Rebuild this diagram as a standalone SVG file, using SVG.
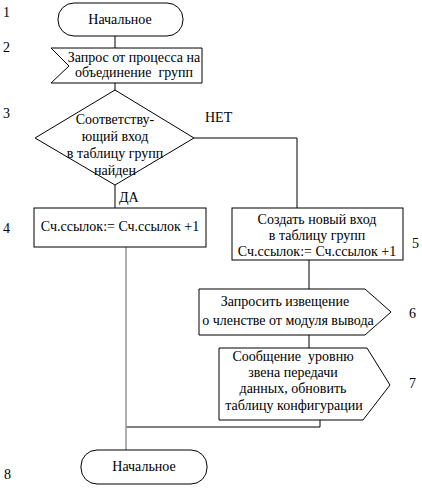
<svg xmlns="http://www.w3.org/2000/svg" width="422" height="489" viewBox="0 0 422 489" font-family="Liberation Serif, DejaVu Serif, serif" font-size="14">
<style>
.s{fill:#fff;stroke:#000;stroke-width:1}
.c{text-anchor:middle}
.ln{fill:none;stroke:#000;stroke-width:1}
.g{fill:none;stroke:#9a9a9a;stroke-width:1.6}
</style>
<rect width="422" height="489" fill="#fff"/>
<g id="connectors">
<line class="ln" x1="115" y1="36" x2="115" y2="48"/>
<line class="ln" x1="115" y1="83" x2="115" y2="90"/>
<line class="ln" x1="115" y1="185" x2="115" y2="208"/>
<polyline class="ln" points="194,138 297,138 297,208"/>
<line class="ln" x1="309" y1="260" x2="309" y2="289"/>
<line class="ln" x1="309" y1="335" x2="309" y2="348"/>
<polyline class="ln" points="320,420 320,427 126,427"/>
<line class="g" x1="126" y1="247" x2="126" y2="450"/>
<text x="205" y="122">НЕТ</text>
<text x="119" y="202">ДА</text>
</g>
<g id="n1">
<rect class="s" x="58" y="3" width="125" height="33" rx="16"/>
<text class="c" x="120" y="24">Начальное</text>
</g>
<g id="n2">
<polygon class="s" points="51,48 202,48 202,83 51,83 69,66"/>
<text class="c" x="134" y="62">Запрос от процесса на</text>
<text class="c" x="134" y="77">объединение&#160; групп</text>
</g>
<g id="n3">
<polygon class="s" points="115,90 194,138 115,185 35,138"/>
<text class="c" x="115" y="124">Соответству-</text>
<text class="c" x="115" y="141">ющий вход</text>
<text class="c" x="115" y="158">в таблицу групп</text>
<text class="c" x="115" y="175">найден</text>
</g>
<g id="n4">
<rect class="s" x="34" y="208" width="172" height="39"/>
<text class="c" x="120" y="231">Сч.ссылок:= Сч.ссылок +1</text>
</g>
<g id="n5">
<rect class="s" x="232" y="208" width="171" height="52"/>
<text class="c" x="317" y="224">Создать новый вход</text>
<text class="c" x="317" y="240">в таблицу групп</text>
<text class="c" x="317" y="256">Сч.ссылок:= Сч.ссылок +1</text>
</g>
<g id="n6">
<polygon class="s" points="199,289 365,289 391,312 365,335 199,335"/>
<text class="c" x="285" y="306">Запросить извещение</text>
<text class="c" x="288" y="325">о членстве от модуля вывода</text>
</g>
<g id="n7">
<polygon class="s" points="219,348 367,348 390,385 363,420 219,420"/>
<text class="c" x="293" y="361">Сообщение&#160; уровню</text>
<text class="c" x="293" y="377">звена передачи</text>
<text class="c" x="293" y="393">данных, обновить</text>
<text class="c" x="294" y="410">таблицу конфигурации</text>
</g>
<g id="n8">
<rect class="s" x="81" y="450" width="126" height="34" rx="16"/>
<text class="c" x="144" y="471">Начальное</text>
</g>
<g id="labels">
<text x="3" y="17">1</text>
<text x="3" y="52">2</text>
<text x="3" y="118">3</text>
<text x="3" y="233">4</text>
<text x="412" y="248">5</text>
<text x="409" y="318">6</text>
<text x="409" y="388">7</text>
<text x="4" y="479">8</text>
</g>
</svg>
